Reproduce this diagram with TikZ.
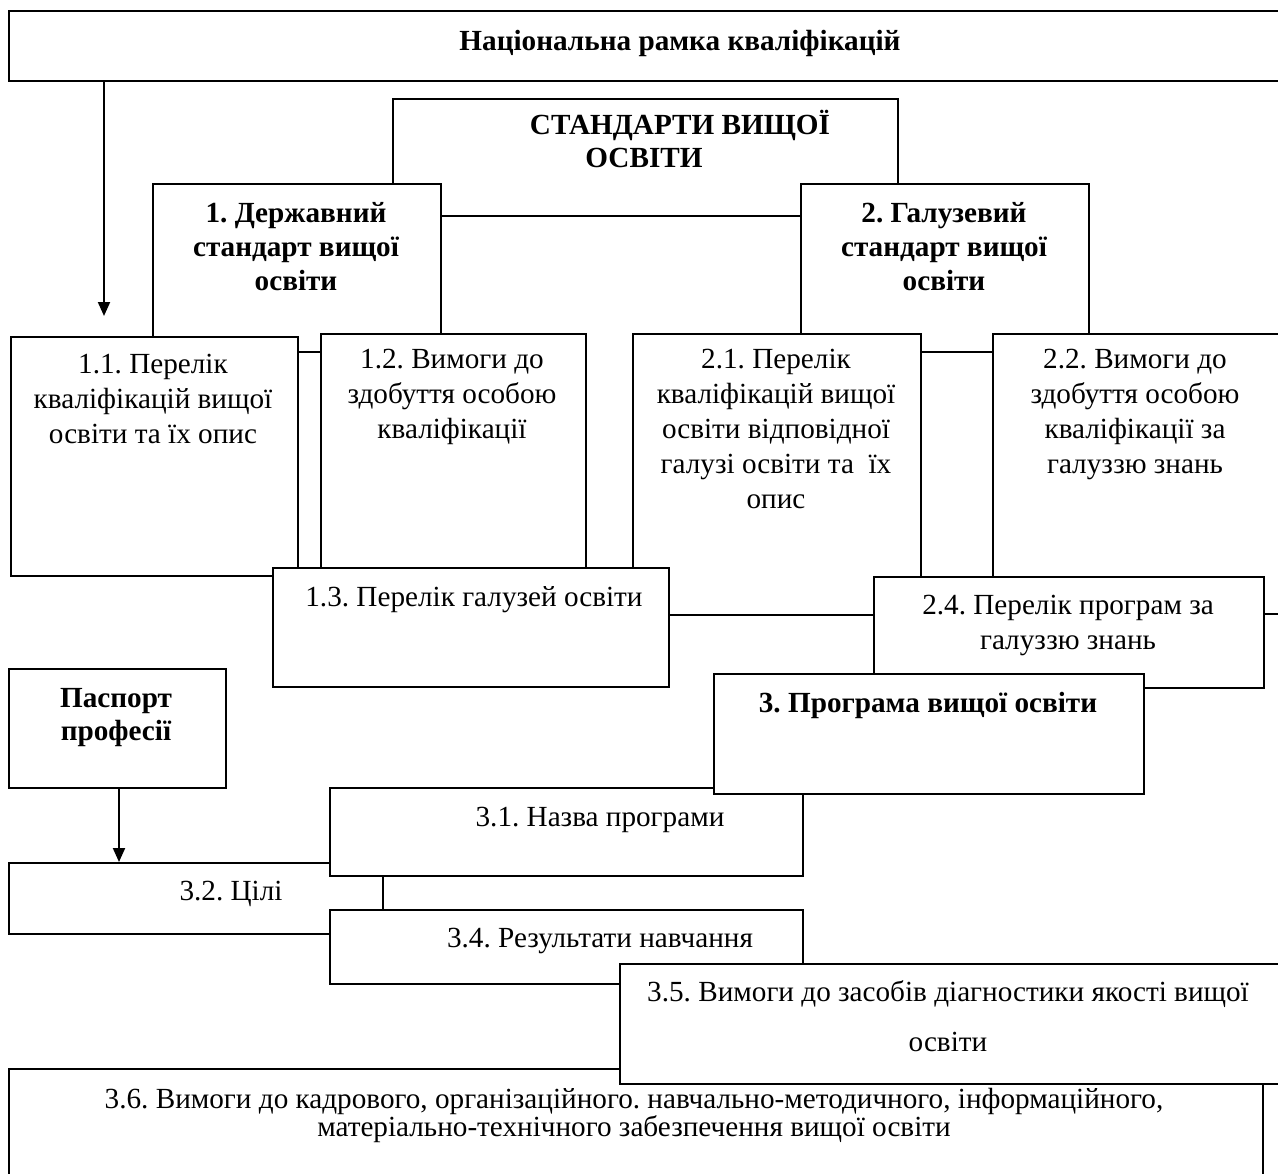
\documentclass[tikz,border=0pt]{standalone}
\usepackage{fontspec}
\setmainfont{Liberation Serif}
\usetikzlibrary{arrows.meta}
\frenchspacing
\newcommand{\mybox}[5]{\node[box, anchor=north west, minimum width={(#4-#2)*0.5pt}, minimum height={(#5-#3)*0.5pt}] (#1) at (#2,#3) {};}
\begin{document}
\begin{tikzpicture}[x=0.5pt,y=-0.5pt,
 box/.style={draw, fill=white, line width=1pt, inner sep=0pt, rectangle},
 txt/.style={align=center, inner sep=0pt, font=\fontsize{14.6}{17.5}\selectfont, execute at begin node=\strut, execute at end node=\strut},
 btxt/.style={txt, font=\fontsize{14.6}{17}\selectfont\bfseries},
 arr/.style={line width=1pt, -{Triangle[length=7pt,width=6pt]}}]
\useasboundingbox (0,0) rectangle (1278,1173);

\mybox{b0}{8}{10}{1290}{80}
\node[btxt] (t0) at (680,44) {Національна рамка кваліфікацій};

\mybox{bs}{392}{98}{897}{215}
\node[btxt, font=\fontsize{14.6}{16.5}\selectfont\bfseries] (ts) at (680,144) {СТАНДАРТИ ВИЩОЇ\\ОСВІТИ\hspace*{36pt}};

\mybox{b1}{152}{183}{440}{351}
\node[btxt] (t1) at (296,252) {1. Державний\\стандарт вищої\\освіти};
\mybox{b2}{800}{183}{1088}{351}
\node[btxt] (t2) at (944,252) {2. Галузевий\\стандарт вищої\\освіти};

\mybox{b11}{10}{336}{297}{575}
\node[txt] (t11) at (153,404) {1.1. Перелік\\кваліфікацій вищої\\освіти та їх опис};
\mybox{b12}{320}{333}{585}{580}
\node[txt] (t12) at (452,399) {1.2. Вимоги до\\здобуття особою\\кваліфікації};
\mybox{b21}{632}{333}{920}{614}
\node[txt] (t21) at (776,434) {2.1. Перелік\\кваліфікацій вищої\\освіти відповідної\\галузі освіти та~ їх\\опис};
\mybox{b22}{992}{333}{1292}{613}
\node[txt] (t22) at (1135,417) {2.2. Вимоги до\\здобуття особою\\кваліфікації за\\галуззю знань};

\coordinate (ax) at (104,0);
\draw[arr, shorten >=10] (b0.south -| ax) -- (b11.north -| ax);

\mybox{b13}{272}{567}{668}{686}
\node[txt] (t13) at (474,599) {1.3. Перелік галузей освіти};
\mybox{b24}{873}{576}{1263}{687}
\node[txt] (t24) at (1068,628) {2.4. Перелік програм за\\галуззю знань};

\mybox{bp}{8}{668}{225}{787}
\node[btxt, font=\fontsize{14.6}{16.5}\selectfont\bfseries] (tp) at (116,719) {Паспорт\\професії};

\mybox{b32}{8}{862}{382}{933}
\node[txt] (t32) at (231,893) {3.2. Цілі};
\draw[arr] (bp.south -| 119,0) -- (b32.north -| 119,0);

\mybox{b31}{329}{787}{802}{875}
\node[txt] (t31) at (600,819) {3.1. Назва програми};

\mybox{b3}{713}{673}{1143}{793}
\node[btxt] (t3) at (928,706) {3. Програма вищої освіти};

\mybox{b34}{329}{909}{802}{983}
\node[txt] (t34) at (600,940) {3.4. Результати навчання};

\mybox{b36}{8}{1068}{1262}{1200}
\node[txt, font=\fontsize{14.6}{14}\selectfont] (t36) at (634,1117) {3.6. Вимоги до кадрового, організаційного. навчально-методичного, інформаційного,\\матеріально-технічного забезпечення вищої освіти};

\mybox{b35}{619}{963}{1292}{1083}
\node[txt, font=\fontsize{14.6}{25}\selectfont] (t35) at (948,1024) {3.5. Вимоги до засобів діагностики якості вищої\\освіти};
\end{tikzpicture}
\end{document}
